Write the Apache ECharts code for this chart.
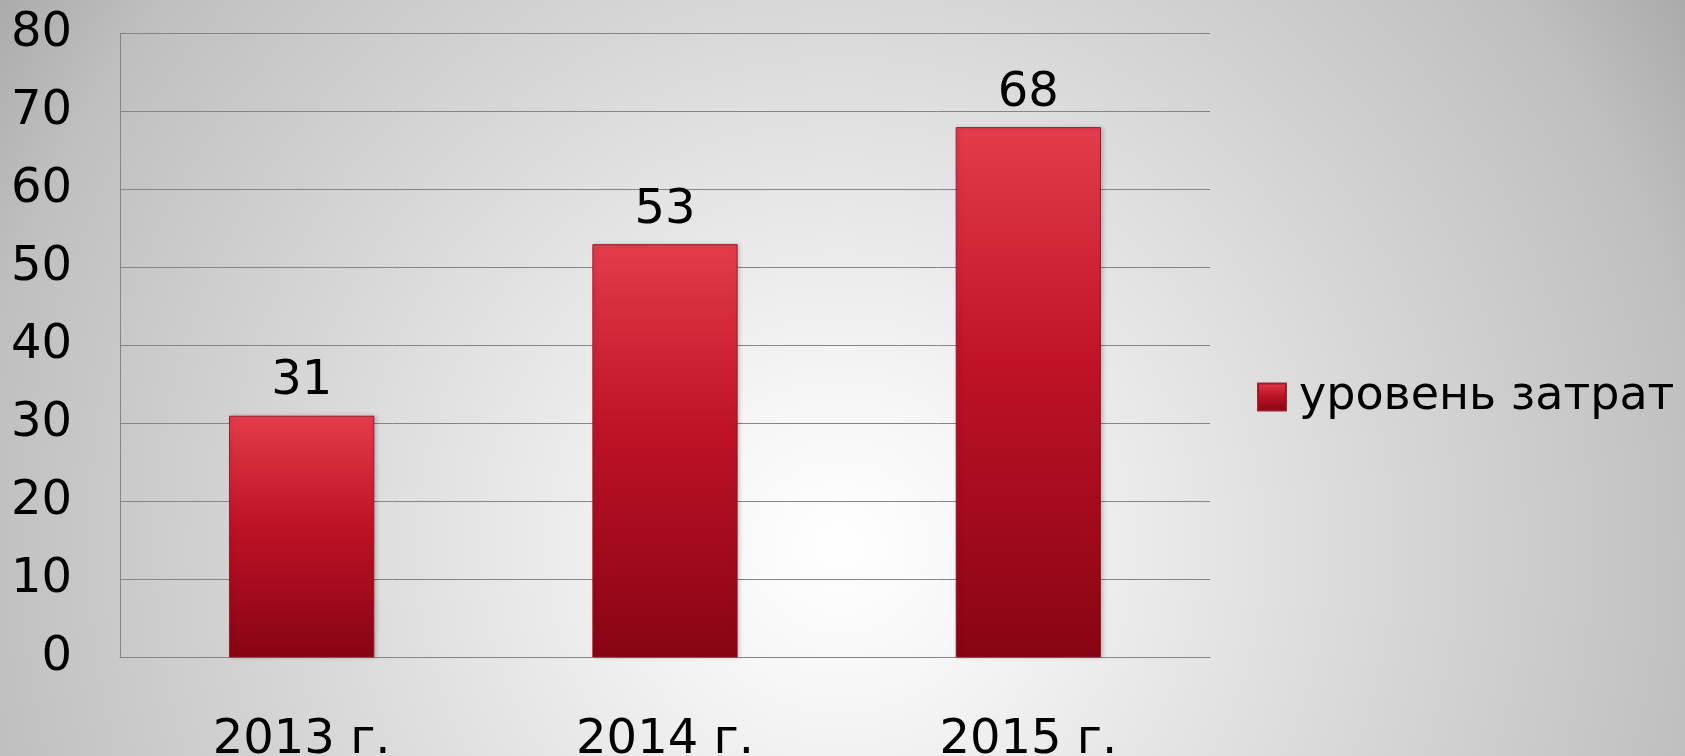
<!DOCTYPE html>
<html>
<head>
<meta charset="utf-8">
<script src="https://cdn.jsdelivr.net/npm/echarts@6/dist/echarts.min.js"></script>
<style>
  html, body { margin: 0; padding: 0; }
  #chart {
    width: 1685px; height: 756px;
    background: radial-gradient(circle at 840px 547px, #ffffff 0px, #f6f6f6 150px, #d5d5d5 576px, #bfbfbf 870px, #aaaaaa 1010px);
  }
</style>
</head>
<body>
<div id="chart"></div>
<script>
// Cost level by year
const categories = ['2013 г.', '2014 г.', '2015 г.'];
const seriesName = 'уровень затрат';
const costLevel = [31, 53, 68];
const yTicks = { min: 0, max: 80, interval: 10 };

const FONT = 'DejaVu Sans';
const barFill = new echarts.graphic.LinearGradient(0, 0, 0, 1, [
  { offset: 0, color: '#e33c4c' },
  { offset: 0.45, color: '#bf1226' },
  { offset: 1, color: '#880414' }
]);

const chart = echarts.init(document.getElementById('chart'), null, { renderer: 'canvas' });
chart.setOption({
  backgroundColor: 'transparent',
  animation: false,
  textStyle: { fontFamily: FONT },
  grid: {
    left: 120, right: 475, top: 33.5, bottom: 98.5,
    containLabel: false,
    outerBoundsMode: 'none'
  },
  legend: {
    orient: 'vertical',
    left: 1257,
    top: 374,
    padding: 0,
    itemWidth: 28,
    itemHeight: 27,
    itemGap: 10,
    icon: 'rect',
    textStyle: { fontFamily: FONT, fontSize: 46, color: '#000', padding: [0, 0, 0, 8] },
    data: [seriesName]
  },
  xAxis: {
    type: 'category',
    data: categories,
    axisLine: { show: true, lineStyle: { color: '#858585', width: 1 } },
    axisTick: { show: false },
    axisLabel: { fontFamily: FONT, fontSize: 48, color: '#000', margin: 59 }
  },
  yAxis: {
    type: 'value',
    min: yTicks.min,
    max: yTicks.max,
    interval: yTicks.interval,
    axisLine: { show: true, lineStyle: { color: '#858585', width: 1 } },
    axisTick: { show: false },
    splitLine: { lineStyle: { color: '#858585', width: 1 } },
    axisLabel: { fontFamily: FONT, fontSize: 48, color: '#000', margin: 48, padding: [10, 0, 0, 0] }
  },
  series: [{
    name: seriesName,
    type: 'bar',
    data: costLevel,
    barWidth: '40%',
    itemStyle: {
      color: barFill,
      borderColor: 'rgba(150, 20, 35, 0.9)',
      borderWidth: 1,
      shadowColor: 'rgba(0,0,0,0.18)',
      shadowBlur: 4,
      shadowOffsetX: 2,
      shadowOffsetY: 0
    },
    label: {
      show: true,
      position: 'top',
      distance: 10,
      fontFamily: FONT,
      fontSize: 48,
      color: '#000'
    }
  }]
});
</script>
</body>
</html>
